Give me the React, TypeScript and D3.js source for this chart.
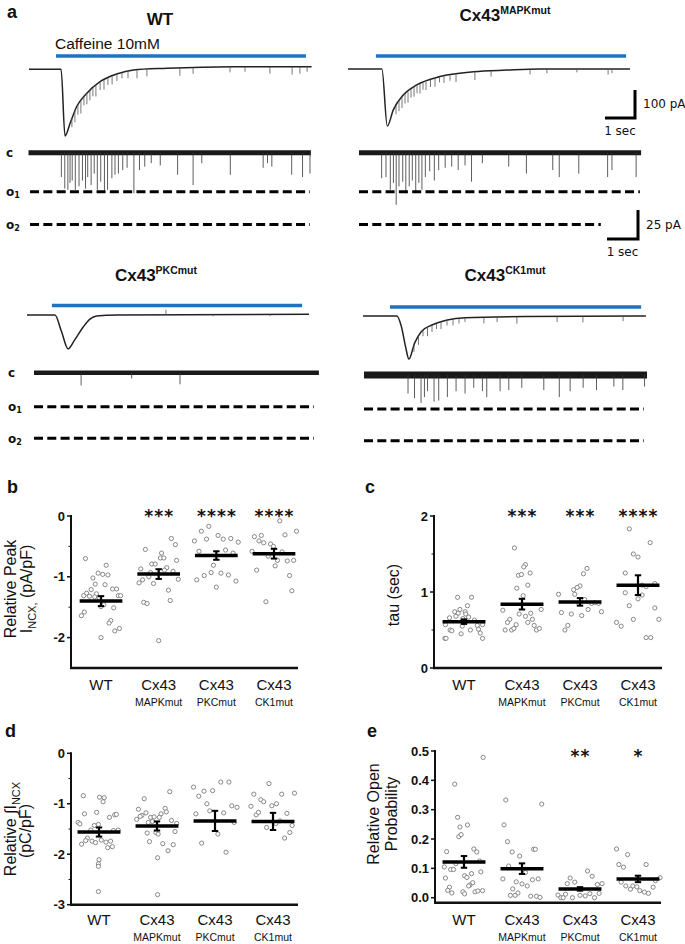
import React from "react";
import * as d3 from "d3";

// ---------- categories ----------
const categories = ["WT", "MAPKmut", "PKCmut", "CK1mut"];
const catMain = ["WT", "Cx43", "Cx43", "Cx43"];
const catSub = ["", "MAPKmut", "PKCmut", "CK1mut"];

// ---------- panel a: macroscopic caffeine traces [time s, current pA] ----------
const wtMacro = [[0, 0], [1.07, 0], [1.2, -238], [1.37, -193], [1.59, -133], [1.92, -86], [2.37, -44], [2.92, -17], [3.48, -2.5], [4.59, 3.6], [6.8, 9.3], [9.42, 9.3]];
const mapkMacro = [[0, 0], [1.13, 0], [1.31, -204], [1.51, -146], [1.84, -93], [2.29, -57], [3.07, -27], [4.18, -10], [5.29, -4], [6.4, 0], [9.4, 0]];
const pkcMacro = [[0, 0], [0.93, 0], [1.15, -59], [1.37, -121], [1.59, -89], [1.88, -42], [2.1, -15], [2.32, -4], [3, 0], [9.4, 3]];
const ck1Macro = [[0, 0], [1.13, 0], [1.28, -38], [1.42, -110], [1.53, -154], [1.72, -97], [1.94, -56], [2.3, -32], [2.81, -14], [3.4, -6], [5.4, -2], [9.43, 0]];

// spikes on macroscopic traces [time s, amplitude pA]
const wtMacroSpikes = [[1.43, 30], [1.53, 40], [1.63, 35], [1.73, 45], [1.83, 30], [1.93, 40], [2.03, 35], [2.13, 30], [2.23, 40], [2.37, 30], [2.5, 35], [2.63, 25], [2.77, 30], [2.93, 25], [3.1, 20], [3.3, 25], [3.6, 30], [3.93, 25], [5.03, 28], [5.47, 22], [6.7, 20], [7.2, 18], [8.03, 25], [8.77, 28], [9.03, 25], [9.27, 18]];
const mapkMacroSpikes = [[1.6, 30], [1.7, 35], [1.8, 40], [1.9, 35], [2.0, 40], [2.1, 30], [2.2, 35], [2.3, 30], [2.4, 35], [2.5, 25], [2.6, 30], [2.75, 25], [2.9, 30], [3.05, 20], [3.2, 25], [3.4, 20], [3.6, 28], [4.23, 30], [4.77, 20], [6.07, 18], [6.63, 15], [7.63, 12], [8.67, 20], [8.8, 15]];
const pkcMacroSpikes = [[4.63, -18], [6.2, 6], [8.1, 6]];
const ck1MacroSpikes = [[1.7, 25], [1.85, 30], [2.0, 20], [2.15, 30], [2.3, 25], [2.45, 20], [2.6, 25], [2.8, 20], [3.0, 22], [3.2, 18], [3.4, 15], [4.03, 22], [4.47, 18], [5.13, 25], [6.47, 20], [7.33, 22], [8.67, 18]];

// caffeine application [start s, end s]
const wtCaffeine = [0.9, 9.23];
const mapkCaffeine = [0.93, 9.27];
const pkcCaffeine = [0.83, 9.17];
const ck1Caffeine = [0.9, 9.27];

// single-channel openings [time s, amplitude pA]
const wtChSpikes = [[1.06, 21], [1.17, 31], [1.27, 32], [1.34, 26], [1.41, 24], [1.51, 32], [1.63, 29], [1.74, 24], [1.84, 31], [1.91, 21], [2.02, 28], [2.12, 18], [2.22, 32], [2.33, 25], [2.45, 34], [2.55, 32], [2.69, 22], [2.79, 19], [2.9, 18], [3.04, 15], [3.18, 13], [3.4, 35], [3.58, 15], [3.75, 12], [3.96, 9], [4.25, 11], [4.81, 19], [5.31, 28], [5.59, 9], [6.51, 19], [7.57, 13], [7.71, 9], [7.85, 12], [8.49, 19], [8.84, 21], [9.08, 18]];
const mapkChSpikes = [[0.73, 22], [0.87, 21], [1.01, 32], [1.11, 26], [1.2, 45], [1.29, 29], [1.41, 25], [1.51, 35], [1.62, 29], [1.72, 24], [1.83, 35], [1.93, 26], [2.03, 32], [2.14, 21], [2.28, 16], [2.43, 24], [2.57, 15], [2.78, 13], [2.99, 12], [3.2, 15], [3.42, 11], [3.63, 25], [3.98, 9], [4.83, 12], [5.4, 18], [6.25, 15], [6.46, 21], [7.09, 18], [8.02, 21], [8.16, 15], [8.94, 21]];
const pkcChSpikes = [[1.52, 11], [3.15, 5], [4.71, 10]];
const ck1ChSpikes = [[1.42, 16], [1.63, 20], [1.84, 24], [1.95, 19], [2.05, 14], [2.26, 23], [2.41, 22], [2.69, 19], [2.97, 14], [3.26, 16], [3.54, 11], [3.82, 14], [3.96, 19], [4.39, 14], [4.67, 13], [5.09, 11], [5.8, 13], [6.3, 19], [6.65, 14], [7.07, 11], [7.5, 13], [8.06, 10], [8.35, 13], [9.05, 10]];

// open levels [O1 pA, O2 pA]
const wtLevels = [33.6, 62];
const mapkLevels = [33.6, 62];
const pkcLevels = [29.3, 56.6];
const ck1Levels = [29.3, 56.6];

// ---------- panel b: relative peak I_NCX [jitter, value] ----------
const peakWT = [[-0.27, -0.7], [0.09, -0.81], [-0.14, -1.02], [-0.05, -0.94], [0.03, -0.96], [0.12, -0.97], [-0.1, -1.12], [0.07, -1.13], [-0.17, -1.21], [0.2, -1.2], [0.27, -1.2], [-0.25, -1.27], [-0.3, -1.31], [-0.2, -1.32], [-0.08, -1.28], [-0.11, -1.33], [-0.03, -1.35], [0.3, -1.31], [0.34, -1.31], [0.05, -1.46], [0.0, -1.49], [0.22, -1.51], [-0.29, -1.58], [-0.34, -1.64], [0.17, -1.72], [0.14, -1.76], [0.32, -1.85], [0.24, -1.89], [0.0, -2.0]];
const peakMAPK = [[-0.23, -0.55], [0.22, -0.37], [0.29, -0.47], [0.05, -0.61], [0.03, -0.69], [0.09, -0.69], [0.31, -0.73], [-0.12, -0.79], [-0.06, -0.79], [0.14, -0.85], [-0.31, -0.87], [0.1, -0.89], [0.25, -0.91], [-0.14, -0.93], [-0.17, -1.0], [0.34, -1.04], [-0.28, -1.05], [-0.34, -1.1], [-0.09, -1.11], [0.17, -1.22], [0.2, -1.39], [-0.26, -1.42], [-0.2, -1.44], [0.0, -2.05]];
const peakPKC = [[-0.13, -0.17], [-0.26, -0.25], [0.03, -0.32], [0.12, -0.38], [0.25, -0.37], [-0.17, -0.38], [-0.38, -0.41], [0.38, -0.43], [-0.3, -0.58], [0.16, -0.56], [0.29, -0.61], [-0.05, -0.81], [-0.09, -0.93], [0.08, -0.94], [-0.21, -0.98], [0.21, -0.97], [-0.34, -1.05], [0.34, -1.07], [0.0, -1.17]];
const peakCK1 = [[0.1, -0.08], [0.39, -0.25], [-0.34, -0.34], [-0.22, -0.32], [0.19, -0.31], [-0.26, -0.41], [-0.18, -0.44], [-0.06, -0.46], [-0.01, -0.5], [-0.38, -0.58], [0.14, -0.59], [-0.1, -0.66], [0.06, -0.73], [0.23, -0.74], [0.34, -0.73], [0.02, -0.82], [-0.3, -0.89], [0.27, -0.98], [0.31, -1.23], [-0.14, -1.41]];
const peakMeans = [-1.4, -0.955, -0.65, -0.62];
const peakSems = [0.082, 0.08, 0.07, 0.08];
const peakStars = ["", "***", "****", "****"];

// ---------- panel c: tau ----------
const tauWT = [[-0.11, 0.93], [0.13, 0.93], [0.06, 0.82], [-0.07, 0.77], [-0.16, 0.74], [-0.1, 0.72], [0.02, 0.74], [0.03, 0.71], [-0.25, 0.66], [0.08, 0.67], [-0.14, 0.68], [-0.02, 0.65], [0.18, 0.63], [-0.32, 0.57], [0.32, 0.57], [0.23, 0.56], [-0.03, 0.55], [-0.24, 0.5], [-0.21, 0.49], [0.11, 0.5], [0.25, 0.51], [0.28, 0.46], [-0.05, 0.45], [-0.33, 0.39], [-0.31, 0.39], [0.32, 0.39]];
const tauMAPK = [[-0.13, 1.58], [0.06, 1.36], [0.03, 1.33], [0.14, 1.25], [-0.06, 1.22], [-0.01, 1.23], [0.1, 1.09], [-0.09, 1.05], [0.02, 0.95], [-0.33, 0.76], [0.33, 0.77], [0.15, 0.72], [-0.05, 0.71], [0.06, 0.68], [0.18, 0.64], [-0.21, 0.64], [-0.25, 0.6], [0.1, 0.6], [-0.1, 0.57], [0.21, 0.56], [-0.29, 0.5], [-0.18, 0.5], [-0.14, 0.52], [0.25, 0.5], [0.3, 0.52]];
const tauPKC = [[0.12, 1.31], [0.06, 1.24], [0, 1.08], [-0.05, 1.06], [-0.11, 1.03], [-0.09, 0.97], [-0.37, 0.97], [0.08, 0.9], [-0.02, 0.85], [0.25, 0.86], [0.2, 0.85], [0.32, 0.85], [0.14, 0.77], [-0.32, 0.73], [-0.15, 0.71], [0.37, 0.74], [0.03, 0.69], [-0.21, 0.56], [-0.26, 0.5]];
const tauCK1 = [[-0.15, 1.83], [0.21, 1.65], [-0.08, 1.5], [0, 1.46], [-0.22, 1.25], [0.29, 1.11], [0.07, 1.09], [0.14, 1.07], [-0.22, 0.99], [0.07, 0.96], [0, 0.91], [-0.15, 0.82], [0.29, 0.79], [-0.08, 0.64], [0.36, 0.64], [-0.37, 0.6], [-0.29, 0.55], [0.14, 0.4], [0.22, 0.4]];
const tauMeans = [0.61, 0.84, 0.87, 1.09];
const tauSems = [0.03, 0.07, 0.05, 0.13];
const tauStars = ["", "***", "***", "****"];

// ---------- panel d: integrated I_NCX ----------
const chargeWT = [[-0.27, -0.84], [0.01, -0.87], [0.09, -0.88], [0.07, -0.96], [-0.25, -1.2], [-0.04, -1.17], [0.18, -1.27], [0.27, -1.22], [0.3, -1.21], [-0.36, -1.37], [-0.33, -1.4], [-0.08, -1.43], [-0.01, -1.41], [-0.14, -1.52], [0.25, -1.53], [0.33, -1.52], [-0.2, -1.68], [-0.23, -1.73], [-0.12, -1.74], [-0.06, -1.77], [0.04, -1.72], [0.12, -1.76], [0.2, -1.74], [-0.3, -1.8], [0.15, -1.87], [0.23, -1.85], [0, -2.11], [-0.01, -2.19], [-0.01, -2.24], [-0.01, -2.74]];
const chargeMAPK = [[0.22, -0.76], [-0.22, -0.9], [-0.32, -1.11], [0.14, -1.09], [0.16, -1.16], [-0.19, -1.18], [-0.26, -1.23], [-0.29, -1.25], [0.07, -1.2], [-0.35, -1.31], [-0.11, -1.27], [-0.05, -1.26], [0.04, -1.27], [0.25, -1.33], [0.34, -1.39], [-0.15, -1.37], [-0.08, -1.35], [-0.17, -1.58], [-0.02, -1.57], [0.02, -1.6], [0.31, -1.55], [-0.13, -1.75], [0.1, -1.79], [0.28, -1.81], [0.19, -1.93], [0.01, -2.07], [0.01, -2.8]];
const chargePKC = [[-0.37, -0.67], [0.1, -0.57], [0.24, -0.57], [-0.28, -0.85], [-0.19, -0.75], [-0.04, -0.74], [-0.14, -1.0], [0.29, -1.04], [0.38, -1.07], [-0.33, -1.2], [-0.09, -1.14], [0.15, -1.18], [0.33, -1.37], [0.05, -1.6], [-0.23, -1.78], [0.19, -1.96]];
const chargeCK1 = [[-0.07, -0.6], [-0.33, -0.81], [0.15, -0.81], [0.37, -0.79], [-0.21, -0.92], [-0.16, -0.96], [-0.02, -1.04], [0.06, -1.0], [-0.38, -1.05], [-0.29, -1.22], [-0.25, -1.17], [0.24, -1.19], [0.12, -1.34], [0.33, -1.43], [-0.11, -1.47], [0.05, -1.39], [0.29, -1.57], [0.2, -1.68]];
const chargeMeans = [-1.56, -1.44, -1.34, -1.35];
const chargeSems = [0.09, 0.09, 0.2, 0.17];
const chargeStars = ["", "", "", ""];

// ---------- panel e: relative open probability ----------
const openWT = [[0.33, 0.478], [-0.16, 0.387], [-0.11, 0.274], [-0.07, 0.241], [0.06, 0.248], [-0.09, 0.208], [-0.05, 0.215], [-0.3, 0.157], [0.17, 0.166], [0.22, 0.156], [0.27, 0.125], [-0.14, 0.116], [-0.34, 0.105], [-0.23, 0.096], [-0.18, 0.096], [0.13, 0.082], [0.01, 0.075], [0.05, 0.069], [0.29, 0.088], [-0.32, 0.067], [0.15, 0.051], [0.1, 0.043], [0.08, 0.04], [-0.25, 0.036], [-0.28, 0.025], [-0.21, 0.016], [-0.02, 0.02], [0.01, 0.013], [0.19, 0.02], [0.24, 0.023], [0.32, 0.024]];
const openMAPK = [[-0.28, 0.333], [0.34, 0.319], [-0.31, 0.248], [-0.25, 0.191], [-0.17, 0.156], [0.2, 0.165], [0.23, 0.165], [-0.04, 0.142], [-0.23, 0.108], [0.05, 0.097], [0.06, 0.086], [-0.33, 0.064], [0.18, 0.061], [0.28, 0.064], [-0.1, 0.054], [0, 0.047], [0.09, 0.04], [-0.16, 0.03], [-0.07, 0.016], [-0.12, 0.008], [-0.2, 0.008], [0.15, 0.005], [0.25, 0.005], [0.31, 0.001]];
const openPKC = [[0.13, 0.091], [0.21, 0.073], [-0.17, 0.067], [-0.09, 0.053], [-0.22, 0.048], [0.3, 0.045], [0.38, 0.048], [-0.38, 0.009], [-0.33, 0], [-0.29, 0], [-0.25, 0.012], [-0.13, 0], [0, 0.008], [0.09, 0.006], [0.17, 0.014], [0.25, 0], [0.33, 0.015]];
const openCK1 = [[-0.37, 0.166], [-0.18, 0.147], [-0.33, 0.113], [-0.25, 0.104], [0.14, 0.113], [-0.29, 0.053], [-0.21, 0.04], [-0.13, 0.029], [-0.09, 0.04], [-0.02, 0.037], [0.03, 0.024], [0.11, 0.019], [0.18, 0.015], [0.26, 0.036], [0.3, 0.058], [0.38, 0.068]];
const openMeans = [0.122, 0.099, 0.03, 0.064];
const openSems = [0.02, 0.018, 0.006, 0.011];
const openStars = ["", "", "**", "*"];

// ---------- style ----------
const SANS = "'Liberation Sans', Arial, sans-serif";
const VERD = "'DejaVu Sans', Verdana, sans-serif";
const BLUE = "#1a73c4";

function Title({ x, y, main, sup }: any) {
  return (
    <text x={x} y={y} textAnchor="middle" fontFamily={SANS} fontWeight="bold" fontSize={17} fill="#111">
      {main}
      {sup ? <tspan fontSize={10.5} dy={-7}>{sup}</tspan> : null}
    </text>
  );
}

function MacroTrace({ x0, y0, keys, spikes, caf, barDy }: any) {
  const x = d3.scaleLinear().domain([0, 1]).range([x0, x0 + 30]);
  const y = d3.scaleLinear().domain([0, -100]).range([y0, y0 + 28]);
  const line = d3.line<any>().x((d: any) => x(d[0])).y((d: any) => y(d[1])).curve(d3.curveMonotoneX);
  const base = d3.scaleLinear().domain(keys.map((k: any) => k[0])).range(keys.map((k: any) => k[1]));
  return (
    <g>
      <line x1={x(caf[0])} x2={x(caf[1])} y1={y0 - barDy} y2={y0 - barDy} stroke={BLUE} strokeWidth={3.6} />
      <path d={line(keys) || ""} fill="none" stroke="#222" strokeWidth={1.5} />
      {spikes.map(([t, a]: any, i: number) => (
        <line key={i} x1={x(t)} x2={x(t)} y1={y(base(t))} y2={y(base(t) - a)} stroke="#555" strokeWidth={0.8} />
      ))}
    </g>
  );
}

function ChannelTrace({ x0, y0, tEnd, spikes, band, levels, dashStart, dashEnds }: any) {
  const x = d3.scaleLinear().domain([0, 1]).range([x0, x0 + 31]);
  const y = d3.scaleLinear().domain([0, -25]).range([y0, y0 + 29]);
  return (
    <g>
      <line x1={x(0)} x2={x(tEnd)} y1={y(0)} y2={y(0)} stroke="#1a1a1a" strokeWidth={band} />
      {spikes.map(([t, a]: any, i: number) => (
        <line key={i} x1={x(t)} x2={x(t)} y1={y(0)} y2={y(-a)} stroke="#333" strokeWidth={0.8} />
      ))}
      {levels.map((lv: number, i: number) => (
        <line key={"l" + i} x1={x(dashStart)} x2={x(dashEnds[i])} y1={y(-lv)} y2={y(-lv)} stroke="#000" strokeWidth={3} strokeDasharray="9 4.3" />
      ))}
    </g>
  );
}

function StateLabels({ x, yc, yo1, yo2 }: any) {
  const st = { fontFamily: VERD, fontWeight: "bold" as const, fontSize: 12, fill: "#111" };
  return (
    <g>
      <text x={x} y={yc} dominantBaseline="central" {...st}>c</text>
      <text x={x} y={yo1} dominantBaseline="central" {...st}>o<tspan fontSize={8} dy={3}>1</tspan></text>
      <text x={x} y={yo2} dominantBaseline="central" {...st}>o<tspan fontSize={8} dy={3}>2</tspan></text>
    </g>
  );
}

function ScaleBar({ cx, cy, w, h, vLabel }: any) {
  return (
    <g fontFamily={VERD} fontSize={12} fill="#111">
      <path d={`M${cx - w},${cy} H${cx} V${cy - h}`} fill="none" stroke="#000" strokeWidth={3} />
      <text x={cx + 8} y={cy - h / 2} dominantBaseline="central">{vLabel}</text>
      <text x={cx - w / 2} y={cy + 17} textAnchor="middle">1 sec</text>
    </g>
  );
}

function ScatterPanel(p: any) {
  const y = d3.scaleLinear().domain(p.domain).range(p.yPix);
  const x = d3.scalePoint<string>().domain(categories).range(p.xRange);
  const step = x.step();
  const half = step * 0.37;
  const cap = 3.2;
  const top = y(p.domain[1]);
  return (
    <g>
      <text x={p.lx} y={p.ly} fontFamily={SANS} fontWeight="bold" fontSize={18} fill="#111">{p.letter}</text>
      {p.children}
      <line x1={p.axisX} x2={p.axisX} y1={top - 1} y2={p.axisBottom} stroke="#111" strokeWidth={2} />
      <line x1={p.axisX - 1} x2={p.xEnd} y1={p.axisBottom} y2={p.axisBottom} stroke="#111" strokeWidth={2.6} />
      {p.ticks.map((t: number) => (
        <g key={t}>
          <line x1={p.axisX - 4} x2={p.axisX} y1={y(t)} y2={y(t)} stroke="#111" strokeWidth={1.5} />
          <text x={p.axisX - 6} y={y(t)} textAnchor="end" dominantBaseline="central" fontFamily={SANS} fontWeight="bold" fontSize={13} fill="#111">
            {p.fmt(t)}
          </text>
        </g>
      ))}
      {p.minor.map((t: number) => (
        <line key={"m" + t} x1={p.axisX - 2.5} x2={p.axisX} y1={y(t)} y2={y(t)} stroke="#111" strokeWidth={1} />
      ))}
      {p.groups.map((g: any, i: number) =>
        g.map(([j, v]: any, k: number) => (
          <circle key={i + "-" + k} cx={(x(categories[i]) as number) + j * step} cy={y(v)} r={2.1} fill="#fff" stroke="#7a7a7a" strokeWidth={0.9} />
        ))
      )}
      {p.means.map((m: number, i: number) => {
        const cx = x(categories[i]) as number;
        const lo = y(m - p.sems[i]);
        const hi = y(m + p.sems[i]);
        return (
          <g key={"mean" + i}>
            <line x1={cx - half} x2={cx + half} y1={y(m)} y2={y(m)} stroke="#000" strokeWidth={3.5} />
            <line x1={cx} x2={cx} y1={lo} y2={hi} stroke="#000" strokeWidth={2.2} />
            <line x1={cx - cap} x2={cx + cap} y1={lo} y2={lo} stroke="#000" strokeWidth={2} />
            <line x1={cx - cap} x2={cx + cap} y1={hi} y2={hi} stroke="#000" strokeWidth={2} />
          </g>
        );
      })}
      {p.stars.map((s: string, i: number) => {
        const cx = x(categories[i]) as number;
        const n = s.length;
        return Array.from(s).map((ch, k) => (
          <text key={"s" + i + k} x={cx + (k - (n - 1) / 2) * 10} y={p.starY + 10} textAnchor="middle" fontFamily={VERD} fontWeight="bold" fontSize={17} fill="#111">
            {ch}
          </text>
        ));
      })}
      {categories.map((c, i) => {
        const cx = x(c) as number;
        return (
          <g key={"c" + c}>
            <text x={cx} y={p.catY} textAnchor="middle" fontFamily={SANS} fontSize={15} fill="#111">{catMain[i]}</text>
            {catSub[i] ? (
              <text x={cx} y={p.catY + 16} textAnchor="middle" fontFamily={SANS} fontSize={10.5} fill="#111">{catSub[i]}</text>
            ) : null}
          </g>
        );
      })}
    </g>
  );
}

export default function App() {
  const fmtInt = (t: number) => String(t);
  const fmt1 = (t: number) => t.toFixed(1);
  return (
    <svg width={685} height={944} viewBox="0 0 685 944" style={{ position: "absolute", left: 0, top: 0, background: "#fff" }}>
      <rect x={0} y={0} width={685} height={944} fill="#fff" />
      {/* ---------- panel a ---------- */}
      <text x={7} y={18} fontFamily={SANS} fontWeight="bold" fontSize={18} fill="#111">a</text>
      <Title x={160} y={25} main="WT" />
      <Title x={505} y={21} main="Cx43" sup="MAPKmut" />
      <Title x={156} y={281} main="Cx43" sup="PKCmut" />
      <Title x={505} y={281} main="Cx43" sup="CK1mut" />
      <text x={55} y={49} fontFamily={SANS} fontSize={15.5} fill="#111">Caffeine 10mM</text>

      <MacroTrace x0={29} y0={69.3} keys={wtMacro} spikes={wtMacroSpikes} caf={wtCaffeine} barDy={13.3} />
      <MacroTrace x0={348} y0={69} keys={mapkMacro} spikes={mapkMacroSpikes} caf={mapkCaffeine} barDy={13} />
      <MacroTrace x0={27} y0={315} keys={pkcMacro} spikes={pkcMacroSpikes} caf={pkcCaffeine} barDy={9.5} />
      <MacroTrace x0={363} y0={316} keys={ck1Macro} spikes={ck1MacroSpikes} caf={ck1Caffeine} barDy={9} />

      <ScaleBar cx={635} cy={118} w={30} h={28} vLabel="100 pA" />

      <StateLabels x={6} yc={152.7} yo1={191.7} yo2={224.7} />
      <ChannelTrace x0={28.5} y0={152.7} tEnd={9.11} spikes={wtChSpikes} band={5} levels={wtLevels} dashStart={0.05} dashEnds={[9.08, 9.08]} />
      <ChannelTrace x0={359} y0={152.7} tEnd={9.1} spikes={mapkChSpikes} band={5} levels={mapkLevels} dashStart={0} dashEnds={[9.06, 7.8]} />
      <ScaleBar cx={638} cy={239} w={31} h={29} vLabel="25 pA" />

      <StateLabels x={8} yc={372.7} yo1={406.7} yo2={438.5} />
      <ChannelTrace x0={34} y0={372.7} tEnd={9.19} spikes={pkcChSpikes} band={4.5} levels={pkcLevels} dashStart={0} dashEnds={[9.03, 9.03]} />
      <ChannelTrace x0={364} y0={375} tEnd={9.13} spikes={ck1ChSpikes} band={7} levels={ck1Levels} dashStart={0} dashEnds={[9.03, 9.03]} />

      {/* ---------- panel b ---------- */}
      <ScatterPanel letter="b" lx={7} ly={493} groups={[peakWT, peakMAPK, peakPKC, peakCK1]} means={peakMeans} sems={peakSems}
        domain={[-2.5, 0]} yPix={[668, 516]} axisX={71} xEnd={298} axisBottom={668} xRange={[101, 274]}
        ticks={[0, -1, -2]} fmt={fmtInt} minor={[-0.5, -1.5]} stars={peakStars} starY={511.7} catY={690}>
        <text transform="translate(15.5,589) rotate(-90)" textAnchor="middle" fontFamily={SANS} fontSize={16} fill="#111">Relative Peak</text>
        <text transform="translate(32,589) rotate(-90)" textAnchor="middle" fontFamily={SANS} fontSize={16} fill="#111">
          I<tspan fontSize={11} dy={4}>NCX,</tspan><tspan dy={-4}> (pA/pF)</tspan>
        </text>
      </ScatterPanel>

      {/* ---------- panel c ---------- */}
      <ScatterPanel letter="c" lx={365} ly={493} groups={[tauWT, tauMAPK, tauPKC, tauCK1]} means={tauMeans} sems={tauSems}
        domain={[0, 2]} yPix={[668, 516]} axisX={434} xEnd={662} axisBottom={668} xRange={[464, 638]}
        ticks={[0, 1, 2]} fmt={fmtInt} minor={[0.5, 1.5]} stars={tauStars} starY={511.7} catY={690}>
        <text transform="translate(399,595) rotate(-90)" textAnchor="middle" fontFamily={SANS} fontSize={16} fill="#111">tau (sec)</text>
      </ScatterPanel>

      {/* ---------- panel d ---------- */}
      <ScatterPanel letter="d" lx={5} ly={737} groups={[chargeWT, chargeMAPK, chargePKC, chargeCK1]} means={chargeMeans} sems={chargeSems}
        domain={[-3, 0]} yPix={[904.7, 753.3]} axisX={71} xEnd={298} axisBottom={904.7} xRange={[99, 273]}
        ticks={[0, -1, -2, -3]} fmt={fmtInt} minor={[-0.5, -1.5, -2.5]} stars={chargeStars} starY={740} catY={925}>
        <text transform="translate(15.5,829) rotate(-90)" textAnchor="middle" fontFamily={SANS} fontSize={16} fill="#111">
          Relative ∫I<tspan fontSize={11} dy={4}>NCX</tspan>
        </text>
        <text transform="translate(31,831) rotate(-90)" textAnchor="middle" fontFamily={SANS} fontSize={16} fill="#111">(pC/pF)</text>
      </ScatterPanel>

      {/* ---------- panel e ---------- */}
      <ScatterPanel letter="e" lx={367} ly={737} groups={[openWT, openMAPK, openPKC, openCK1]} means={openMeans} sems={openSems}
        domain={[0, 0.5]} yPix={[897.7, 751]} axisX={435} xEnd={661} axisBottom={902.7} xRange={[464, 638]}
        ticks={[0, 0.1, 0.2, 0.3, 0.4, 0.5]} fmt={fmt1} minor={[]} stars={openStars} starY={751.7} catY={925}>
        <text transform="translate(379,814) rotate(-90)" textAnchor="middle" fontFamily={SANS} fontSize={16} fill="#111">Relative Open</text>
        <text transform="translate(397,814) rotate(-90)" textAnchor="middle" fontFamily={SANS} fontSize={16} fill="#111">Probability</text>
      </ScatterPanel>
    </svg>
  );
}
